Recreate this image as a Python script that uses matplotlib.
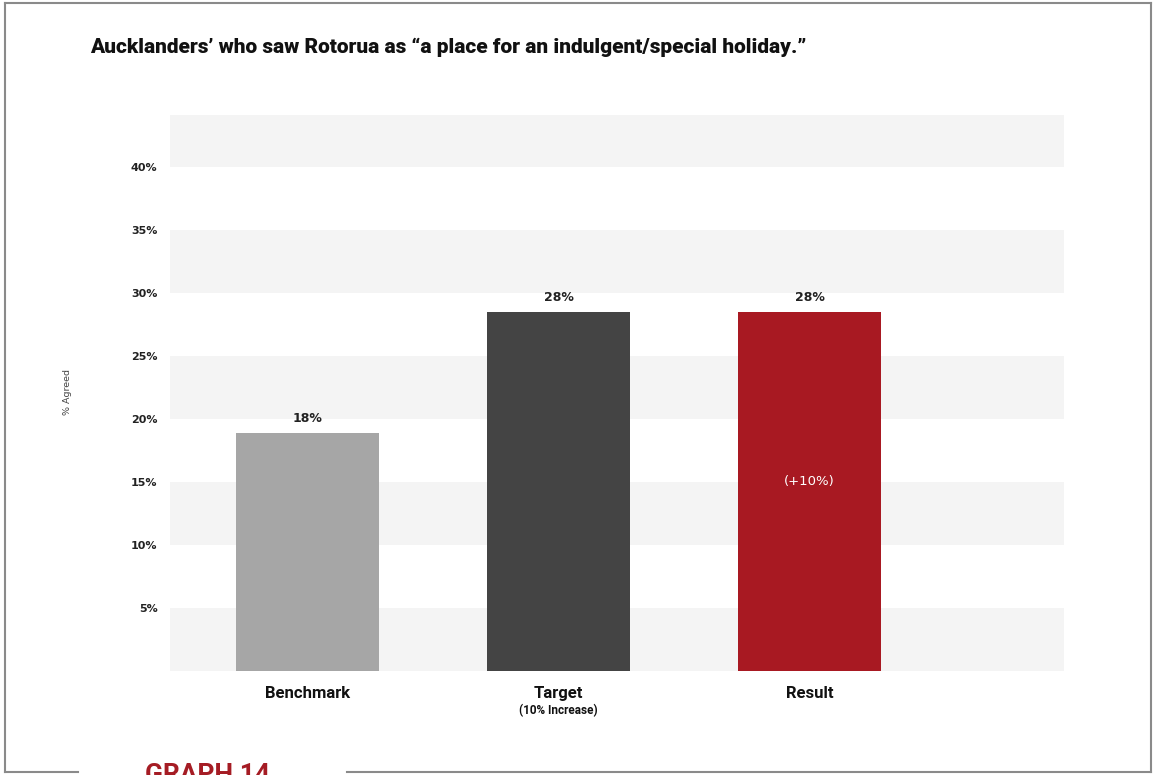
import numpy as np
from matplotlib import pyplot as plt
from matplotlib.lines import Line2D

# values
categories = ['Benchmark', 'Target', 'Result']
sublabels = ['', '(10% Increase)', '']
heights = [18.9, 28.5, 28.5]
value_labels = ['18%', '28%', '28%']
inner_labels = ['', '', '(+10%)']
bar_colors = ['#a6a6a6', '#444444', '#a81922']
ytick_vals = [5, 10, 15, 20, 25, 30, 35, 40]
ytick_labels = ['5%', '10%', '15%', '20%', '25%', '30%', '35%', '40%']
title = 'Aucklanders\u2019 who saw Rotorua as \u201ca place for an indulgent/special holiday.\u201d'

W, H = 1153, 775
fig = plt.figure(figsize=(W/100, H/100), dpi=100)
ax = fig.add_axes([170/W, 1 - 671/H, (1064-170)/W, (671-115)/H])

ymax = 44.1
# alternating background bands
for lo in range(0, 45, 10):
    ax.axhspan(lo, min(lo + 5, ymax), color='#f4f4f4', zorder=0, lw=0)

x = np.arange(len(categories))
ax.bar(x, heights, width=0.57, color=bar_colors, zorder=2)

for i in range(len(categories)):
    ax.text(x[i], heights[i] + 0.6, value_labels[i], ha='center', va='bottom',
            fontsize=9, fontweight='bold', color='#222222', family='DejaVu Sans')
    if inner_labels[i]:
        ax.text(x[i], 15, inner_labels[i], ha='center', va='center',
                fontsize=9.5, color='white', family='DejaVu Sans')
    ax.text(x[i], -1.2, categories[i], ha='center', va='top', fontsize=12,
            fontweight='bold', color='#111111', family='Roboto')
    if sublabels[i]:
        ax.text(x[i], -2.6, sublabels[i], ha='center', va='top', fontsize=8.5,
                fontweight='bold', color='#111111', family='Roboto')

ax.set_xlim(-0.548, 3.014)
ax.set_ylim(0, ymax)
ax.set_xticks([])
ax.set_yticks(ytick_vals)
ax.set_yticklabels(ytick_labels, fontsize=8, fontweight='bold', color='#222222')
ax.tick_params(axis='y', length=0, pad=9)
for s in ax.spines.values():
    s.set_visible(False)

fig.text(67/W, 1 - 392/H, '% Agreed', rotation=90, ha='center', va='center',
         fontsize=6.8, color='#444444')
fig.text(90/W, 1 - 47/H, title, ha='left', va='center', fontsize=15,
         fontweight='heavy', color='#111111', family='Roboto')
fig.text(145/W, 1 - 763/H, 'GRAPH 14', ha='left', va='top', fontsize=19,
         fontweight='bold', color='#a51c24', family='Roboto')

# page border with a gap for the caption
border = dict(color='#8a8a8a', lw=1.5, transform=fig.transFigure)
fig.add_artist(Line2D([5/W, 1151/W], [1 - 3/H, 1 - 3/H], **border))
fig.add_artist(Line2D([5/W, 5/W], [1 - 3/H, 1 - 772/H], **border))
fig.add_artist(Line2D([1151/W, 1151/W], [1 - 3/H, 1 - 772/H], **border))
fig.add_artist(Line2D([5/W, 78/W], [1 - 772/H, 1 - 772/H], **border))
fig.add_artist(Line2D([347/W, 1151/W], [1 - 772/H, 1 - 772/H], **border))

plt.savefig('out.png', dpi=100)
